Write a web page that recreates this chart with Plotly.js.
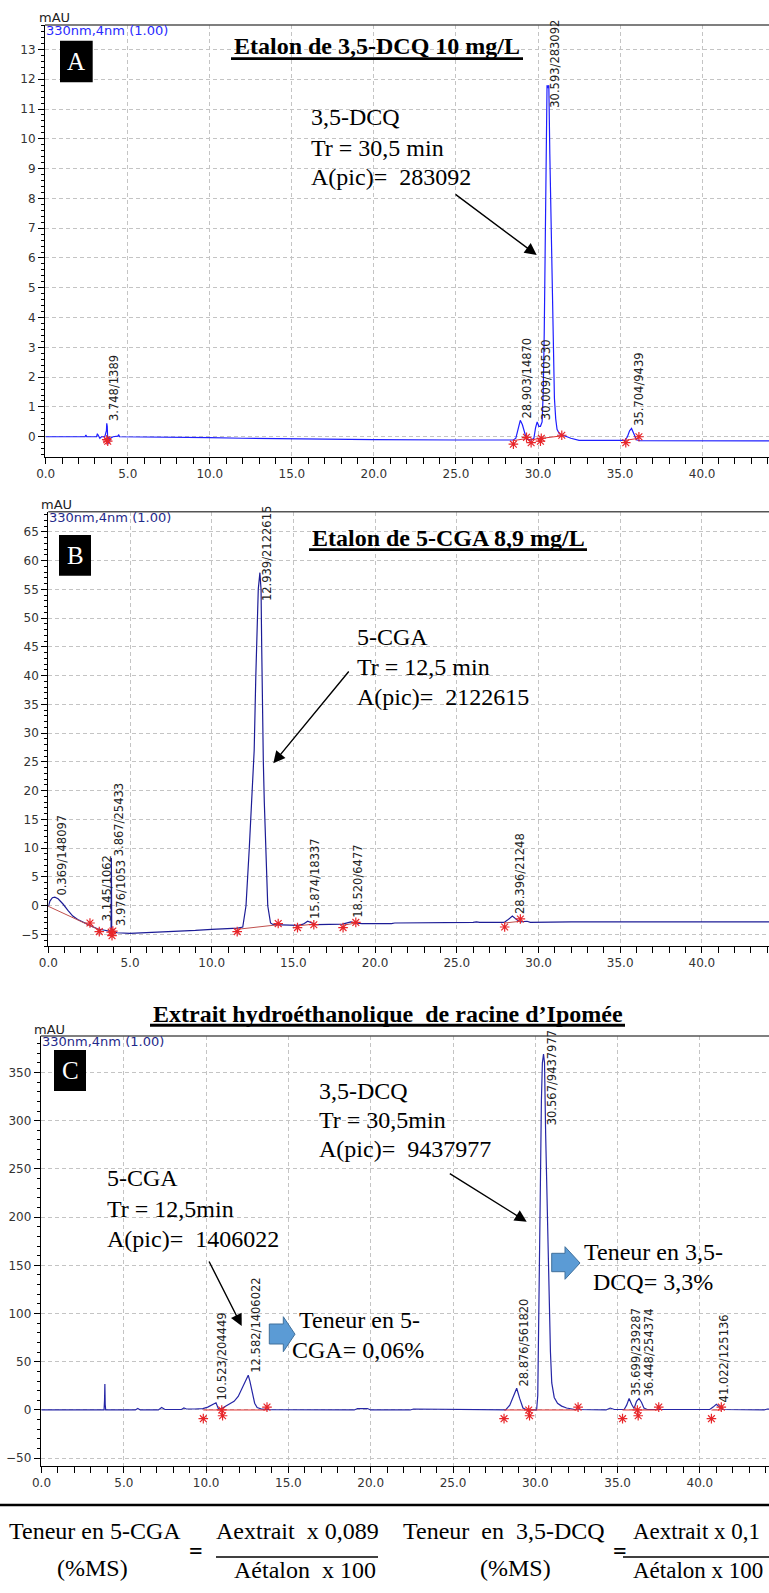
<!DOCTYPE html>
<html>
<head>
<meta charset="utf-8">
<script src="https://cdn.plot.ly/plotly-3.0.1.min.js"></script>
<style>html,body{margin:0;padding:0;overflow:hidden;background:#fff}</style>
</head>
<body>
<div id="chart" style="width:800px;height:1593px"></div>
<script>
// ================= DATA =================
// Panel A : Etalon de 3,5-DCQ 10 mg/L  (time min, mAU)
const signalA = [[0,0],[2.4,0],[2.45,0.06],[2.5,0],[3.1,0],[3.15,0.1],[3.2,0.05],[3.3,-0.05],[3.4,0],[3.6,0],[3.7,0.2],[3.72,0.45],[3.75,0.35],[3.78,-0.1],[3.8,-0.25],[3.85,0],[3.9,-0.15],[3.95,-0.05],[4.1,0],[4.4,0.02],[4.45,0.07],[4.5,0],[8,-0.01],[10,-0.03],[12,-0.05],[15,-0.07],[18,-0.09],[20,-0.1],[25,-0.11],[28.5,-0.11],[28.65,-0.05],[28.8,0.35],[28.92,0.55],[29.05,0.4],[29.2,0.05],[29.3,-0.08],[29.6,-0.11],[29.75,-0.05],[29.85,0.3],[29.95,0.5],[30.05,0.35],[30.15,0.35],[30.25,0.5],[30.32,1.5],[30.38,3.5],[30.44,6.5],[30.5,10],[30.55,11.8],[30.62,11.7],[30.66,11.8],[30.72,9.5],[30.8,7.0],[30.88,4.8],[30.95,2.6],[31.0,1.3],[31.08,0.6],[31.16,0.25],[31.3,0.1],[31.55,0.05],[32.0,-0.05],[32.5,-0.12],[35.3,-0.12],[35.45,0],[35.58,0.2],[35.7,0.28],[35.85,0.1],[36.0,-0.1],[36.2,-0.13],[40,-0.13],[44,-0.14],[47,-0.14]];
const baseTimeA = [28.5, 29.3, null, 29.55, 31.45, null, 35.35, 36.15];
const baseValA  = [-0.13, -0.06, null, -0.1, 0.03, null, -0.12, -0.05];
const markTimeA = [3.72, 3.78, 28.5, 29.3, 29.58, 30.15, 30.2, 31.45, 35.35, 36.15];
const markValA  = [-0.1, -0.15, -0.25, -0.02, -0.2, -0.15, -0.05, 0.05, -0.2, 0.0];
const peakTimeA = [3.748, 28.903, 30.009, 30.593, 35.704];
const peakAreaA = [1389, 14870, 10530, 283092, 9439];
const peakTopA  = [0.45, 0.55, 0.5, 11.8, 0.28];

// Panel B : Etalon de 5-CGA 8,9 mg/L
const signalB = [[0,-0.2],[0.1,0.8],[0.25,1.4],[0.4,1.5],[0.6,1.2],[0.9,0.3],[1.2,-0.8],[1.5,-1.8],[1.8,-2.4],[2.2,-3.0],[2.6,-3.5],[3.0,-4.0],[3.145,-4.1],[3.5,-4.3],[3.84,-4.5],[3.86,8.3],[3.88,-4.0],[3.976,-4.4],[4.2,-4.7],[5,-4.8],[7,-4.6],[9,-4.3],[10,-4.1],[11,-4.0],[11.6,-3.9],[11.9,-3.7],[12.1,0],[12.3,10],[12.45,20],[12.6,27],[12.7,40],[12.78,48],[12.85,55],[12.95,57.9],[13.02,55],[13.06,45],[13.1,35],[13.16,25],[13.22,18],[13.3,10],[13.43,0],[13.6,-3.0],[13.77,-3.3],[15.3,-3.4],[15.6,-3.2],[15.874,-2.7],[16.1,-3.0],[16.4,-3.3],[18.0,-3.2],[18.3,-3.0],[18.52,-2.8],[18.8,-3.0],[19.2,-3.1],[21,-3.1],[21.2,-3.0],[26,-2.9],[26.2,-2.8],[26.4,-2.9],[27.9,-2.9],[28.1,-2.5],[28.4,-1.8],[28.7,-2.5],[28.9,-2.8],[29.3,-2.7],[29.5,-2.9],[32,-2.8],[44,-2.8],[47,-2.8]];
const baseTimeB = [0, 2.55, 3.12, null, 11.56, 14.07, null, 15.25, 16.25, null, 18.04, 18.82, null, 27.93, 28.89];
const baseValB  = [-0.1, -3.5, -4.2, null, -4.1, -3.3, null, -3.5, -3.2, null, -3.4, -3.0, null, -3.0, -2.7];
const markTimeB = [2.55, 3.12, 3.85, 3.9, 3.95, 11.56, 14.07, 15.25, 16.25, 18.04, 18.82, 27.93, 28.89];
const markValB  = [-3.0, -4.5, -4.6, -5.2, -4.4, -4.5, -3.1, -3.8, -3.3, -3.8, -2.9, -3.7, -2.3];
const peakTimeB = [0.369, 3.145, 3.867, 3.976, 12.939, 15.874, 18.520, 28.396];
const peakAreaB = [148097, 1062, 25433, 1053, 2122615, 18337, 6477, 21248];
const peakTopB  = [1.5, -3.0, 8.3, -3.9, 57.9, -2.7, -2.5, -1.7];

// Panel C : Extrait hydroéthanolique de racine d'Ipomée
const signalC = [[0,0],[3.8,0],[3.83,10],[3.85,27],[3.87,6],[3.9,0],[4.0,0],[5.7,0],[5.85,1.5],[6.0,0],[7.1,0],[7.3,2.5],[7.5,0.5],[8.5,0.5],[8.65,2],[8.8,1],[9.3,1],[9.8,1.5],[10.1,3],[10.44,6],[10.6,7.5],[10.74,1.5],[10.9,1],[11.1,3],[11.4,6],[11.7,9],[11.95,14],[12.15,21],[12.3,27],[12.45,33],[12.56,36],[12.66,30],[12.8,17],[12.95,7],[13.1,2.5],[13.4,0.8],[13.8,0.3],[19.0,0],[19.2,1.5],[19.8,1.5],[20.0,0],[22.4,0],[22.6,1],[28.2,0],[28.45,5],[28.65,14],[28.87,22.5],[29.05,12],[29.25,2],[29.5,0],[30.08,0],[30.15,15],[30.22,90],[30.3,220],[30.37,320],[30.43,360],[30.5,369],[30.56,360],[30.63,285],[30.7,230],[30.77,160],[30.84,115],[30.92,60],[31.0,28],[31.15,13],[31.35,7],[31.6,4],[31.9,2],[32.4,0.5],[34.3,0],[34.55,2],[34.8,0.5],[35.4,0.5],[35.55,5],[35.7,12],[35.85,6],[36.0,1.5],[36.15,9],[36.3,12],[36.45,8],[36.6,2],[36.8,0.5],[40.6,0.5],[40.8,3],[41.0,6],[41.2,3],[41.4,0.5],[43.9,0],[44.1,1],[44.4,0.5],[47,0]];
const baseTimeC = [9.83, 13.7, null, 28.1, 32.6, null, 35.3, 37.5, null, 40.7, 41.3];
const baseValC  = [0, 0, null, 0, 0, null, 0, 0, null, 0, 0];
const markTimeC = [9.83, 10.95, 11.0, 13.7, 28.1, 29.6, 29.65, 32.6, 35.3, 36.2, 36.25, 37.5, 40.7, 41.3];
const markValC  = [-9, 0, -6, 3, -9, 0, -6, 3, -9, 0, -6, 3, -9, 3];
const peakTimeC = [10.523, 12.582, 28.876, 30.567, 35.699, 36.448, 41.022];
const peakAreaC = [204449, 1406022, 561820, 9437977, 239287, 254374, 125136];
const peakTopC  = [8, 36, 22.5, 369, 12, 12, 6];

const xTickLabels = ['0.0','5.0','10.0','15.0','20.0','25.0','30.0','35.0','40.0'];

// ================= LAYOUT GEOMETRY (pixels) =================
const W = 800, H = 1593;
const px = x => x / W;
const py = y => 1 - y / H;
const SERIF = 'Liberation Serif', SANS = 'DejaVu Sans';
const RED = '#e8262a';

const panels = [
  {left:45, x0:45.7, ppm:16.41, top:25, bottom:456.7, yr:[-0.67,13.82], dtick:1, minor:0.2,
   color:'#1e1eff', baseColor:'#dc2f2f', infoColor:'#2a2aff', mau:[38,17.5], info:[45,31],
   signal:signalA, bt:baseTimeA, bv:baseValA, mt:markTimeA, mv:markValA, pt:peakTimeA, pa:peakAreaA, ph:peakTopA},
  {left:48.3, x0:48.3, ppm:16.34, top:511.7, bottom:946, yr:[-7.0,68.5], dtick:5, minor:1,
   color:'#1c1c96', baseColor:'#c0504d', infoColor:'#1f2a8a', mau:[40,505], info:[48,517.7],
   signal:signalB, bt:baseTimeB, bv:baseValB, mt:markTimeB, mv:markValB, pt:peakTimeB, pa:peakAreaB, ph:peakTopB},
  {left:40.7, x0:41.5, ppm:16.46, top:1036, bottom:1466, yr:[-58.1,387.8], dtick:50, minor:10,
   color:'#2626a6', baseColor:'#e03030', infoColor:'#1f2a8a', mau:[33,1029], info:[40.7,1041.7],
   signal:signalC, bt:baseTimeC, bv:baseValC, mt:markTimeC, mv:markValC, pt:peakTimeC, pa:peakAreaC, ph:peakTopC}
];

const traces = [], ann = [], shapes = [];
const layout = {width:W, height:H, margin:{l:0,r:0,t:0,b:0}, showlegend:false,
  paper_bgcolor:'#fff', plot_bgcolor:'#fff', annotations:ann, shapes:shapes};

function charW(c){ return /[0-9]/.test(c) ? 0.636 : (c === '/' ? 0.337 : 0.318); }
const LBL = 11.5;

panels.forEach((p, i) => {
  const s = i ? String(i+1) : '';
  const xa = 'x' + s, ya = 'y' + s;
  layout['xaxis' + s] = {
    domain:[px(p.left), 1], range:[-(p.x0-p.left)/p.ppm, (W-p.x0)/p.ppm], anchor:ya,
    showline:true, linecolor:'#000', linewidth:1, ticks:'outside', ticklen:6, tickwidth:1, tickcolor:'#000',
    tickmode:'array', tickvals:xTickLabels.map(Number), ticktext:xTickLabels,
    tickfont:{family:SANS, size:12, color:'#333'},
    showgrid:true, gridcolor:'#c4c4c4', griddash:'4px,3px', gridwidth:1, zeroline:false,
    minor:{dtick:1, tick0:0, ticks:'outside', ticklen:6, tickcolor:'#000', showgrid:false}, fixedrange:true
  };
  layout['yaxis' + s] = {
    domain:[py(p.bottom), py(p.top)], range:p.yr, anchor:xa,
    showline:true, linecolor:'#000', linewidth:1, ticks:'outside', ticklen:6, tickwidth:1, tickcolor:'#000',
    tick0:0, dtick:p.dtick, tickfont:{family:SANS, size:12, color:'#333'},
    showgrid:true, gridcolor:'#c4c4c4', griddash:'4px,3px', gridwidth:1, zeroline:false,
    minor:{dtick:p.minor, tick0:0, ticks:'outside', ticklen:3, tickcolor:'#000', showgrid:false}, fixedrange:true
  };
  traces.push({type:'scatter', mode:'lines', x:p.signal.map(d=>d[0]), y:p.signal.map(d=>d[1]),
    xaxis:xa, yaxis:ya, line:{color:p.color, width:1.2}, hoverinfo:'skip'});
  traces.push({type:'scatter', mode:'lines', x:p.bt, y:p.bv, xaxis:xa, yaxis:ya,
    line:{color:p.baseColor, width:1}, connectgaps:false, hoverinfo:'skip'});
  traces.push({type:'scatter', mode:'markers', x:p.mt, y:p.mv, xaxis:xa, yaxis:ya,
    marker:{symbol:'asterisk-open', size:8, color:RED, line:{color:RED, width:1.2}}, hoverinfo:'skip'});
  shapes.push({type:'line', xref:'paper', yref:'paper', x0:px(p.left), x1:1, y0:py(p.top), y1:py(p.top),
    line:{color:'#555', width:1.5}});
  ann.push({xref:'paper', yref:'paper', x:px(p.mau[0]), y:py(p.mau[1]), xanchor:'left', yanchor:'middle',
    text:'mAU', showarrow:false, borderpad:0, font:{family:SANS, size:13, color:'#222'}});
  ann.push({xref:'paper', yref:'paper', x:px(p.info[0]), y:py(p.info[1]), xanchor:'left', yanchor:'middle',
    text:'330nm,4nm (1.00)', showarrow:false, borderpad:0, font:{family:SANS, size:13, color:p.infoColor}});
  const toPx = v => p.top + (p.yr[1]-v)/(p.yr[1]-p.yr[0])*(p.bottom-p.top);
  p.pt.forEach((t, k) => {
    const txt = t.toFixed(3) + '/' + p.pa[k];
    const len = [...txt].reduce((a,c)=>a+charW(c),0) * LBL;
    let bot = toPx(p.ph[k]) - 2;
    let top = bot - len;
    if (top < p.top - 5.5) { top = p.top - 5.5; bot = top + len; }
    ann.push({xref:xa, yref:'paper', x:t, xshift:7.5, y:py((top+bot)/2), xanchor:'center', yanchor:'middle',
      textangle:-90, text:txt, showarrow:false, borderpad:0, font:{family:SANS, size:LBL, color:'#222'}});
  });
});

function textAt(text, x, baseline, size, anchor, extra) {
  ann.push(Object.assign({xref:'paper', yref:'paper', x:px(x), y:py(baseline - 0.3375*size),
    xanchor:anchor || 'left', yanchor:'middle', text:text, showarrow:false, borderpad:0,
    font:{family:SERIF, size:size, color:'#000'}}, extra || {}));
}
function line(x0,y0,x1,y1,w,color){ shapes.push({type:'line', xref:'paper', yref:'paper',
  x0:px(x0), y0:py(y0), x1:px(x1), y1:py(y1), line:{color:color||'#000', width:w}}); }
function box(x0,y0,x1,y1,letter){
  shapes.push({type:'rect', xref:'paper', yref:'paper', x0:px(x0), y0:py(y0), x1:px(x1), y1:py(y1),
    fillcolor:'#000', line:{width:0}});
  ann.push({xref:'paper', yref:'paper', x:px((x0+x1)/2), y:py((y0+y1)/2), xanchor:'center', yanchor:'middle',
    text:letter, showarrow:false, borderpad:0, font:{family:SERIF, size:25, color:'#fff'}});
}
function arrow(hx, hy, tx, ty){
  ann.push({xref:'paper', yref:'paper', x:px(hx), y:py(hy), ax:tx-hx, ay:ty-hy, axref:'pixel', ayref:'pixel',
    text:'', showarrow:true, arrowhead:2, arrowsize:1.7, arrowwidth:1.4, arrowcolor:'#000', standoff:0, startstandoff:0});
}
function blockArrow(x0, x1, x2, yTop, yBot, bTop, bBot){
  const ym = (yTop + yBot)/2;
  const pts = [[x0,bTop],[x1,bTop],[x1,yTop],[x2,ym],[x1,yBot],[x1,bBot],[x0,bBot]];
  const d = 'M ' + pts.map(q => px(q[0]) + ',' + py(q[1])).join(' L ') + ' Z';
  shapes.push({type:'path', xref:'paper', yref:'paper', path:d, fillcolor:'#5b9bd5', line:{color:'#41719c', width:1}});
}
const NB = '\u00A0';

// ----- Panel A overlay -----
box(60, 40.7, 92.7, 82.3, 'A');
textAt('<b>Etalon de 3,5-DCQ 10 mg/L</b>', 377, 54, 24, 'center');
line(231, 58.7, 523, 58.7, 2.7);
textAt('3,5-DCQ', 310, 125, 24);
textAt('Tr = 30,5 min', 310, 156, 24);
textAt('A(pic)=' + NB + NB + '283092', 310, 185, 24);
arrow(536.7, 255, 454, 193.3);

// ----- Panel B overlay -----
box(59, 535, 91, 575.7, 'B');
textAt('<b>Etalon de 5-CGA 8,9 mg/L</b>', 448, 546.3, 24, 'center');
line(309, 549.7, 587, 549.7, 2.7);
textAt('5-CGA', 356, 645, 24);
textAt('Tr = 12,5 min', 356, 675, 24);
textAt('A(pic)=' + NB + NB + '2122615', 356, 705, 24);
arrow(273.3, 763.3, 350, 670);

// ----- Panel C overlay -----
textAt('<b>Extrait' + NB + 'hydroéthanolique' + NB + ' de racine d’Ipomée</b>', 387.5, 1021.7, 24, 'center');
line(150, 1025.3, 625, 1025.3, 3);
box(54, 1050, 86, 1091, 'C');
textAt('3,5-DCQ', 318, 1099, 24);
textAt('Tr = 30,5min', 318, 1128, 24);
textAt('A(pic)=' + NB + NB + '9437977', 318, 1157, 24);
arrow(526.7, 1221.7, 448.3, 1172.7);
textAt('5-CGA', 106, 1186, 24);
textAt('Tr = 12,5min', 106, 1216.7, 24);
textAt('A(pic)=' + NB + NB + '1406022', 106, 1246.7, 24);
arrow(241.7, 1326, 208.3, 1260);
blockArrow(269.3, 283.3, 295, 1316.7, 1351.7, 1324, 1344);
blockArrow(551.7, 565, 580, 1246.7, 1279.3, 1253.3, 1271.7);
textAt('Teneur en 5-', 359, 1328.3, 24, 'center');
textAt('CGA= 0,06%', 358, 1358.3, 24, 'center');
textAt('Teneur en 3,5-', 653, 1260, 24, 'center');
textAt('DCQ= 3,3%', 653, 1290, 24, 'center');

// ----- Formula strip -----
line(0, 1505, W, 1505, 2.5);
textAt('Teneur en 5-CGA', 95, 1539, 24, 'center');
textAt('(%MS)', 92, 1576, 24, 'center');
textAt('<b>=</b>', 196, 1559, 24, 'center');
textAt('Aextrait' + NB + NB + 'x 0,089', 297, 1539, 24, 'center');
line(216, 1557, 378, 1557, 1.5);
textAt('Aétalon' + NB + NB + 'x 100', 305, 1578, 24, 'center');
textAt('Teneur' + NB + ' en' + NB + ' 3,5-DCQ', 503.5, 1539, 24, 'center');
textAt('(%MS)', 515, 1576, 24, 'center');
textAt('<b>=</b>', 620, 1559, 24, 'center');
textAt('Aextrait x 0,1', 632, 1539, 23, 'left');
line(623, 1557, W, 1557, 1.5);
textAt('Aétalon x 100', 632, 1578, 23, 'left');

Plotly.newPlot('chart', traces, layout, {staticPlot:true, displayModeBar:false});
</script>
</body>
</html>
